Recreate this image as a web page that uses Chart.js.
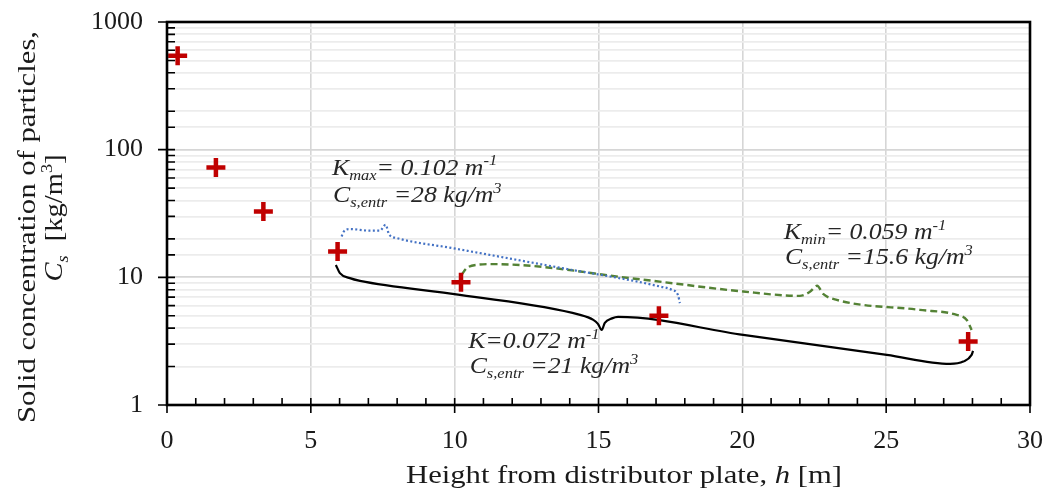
<!DOCTYPE html>
<html><head><meta charset="utf-8">
<script src="https://cdn.jsdelivr.net/npm/chart.js@4.4.0/dist/chart.umd.min.js"></script>
<style>html,body{margin:0;padding:0;background:#fff;} #wrap{width:1049px;height:495px;position:relative;}</style>
</head><body><div id="wrap"><canvas id="c"></canvas></div>
<script>
// ---- data ----
const heights = [0.37, 1.70, 3.35, 5.93, 10.22, 17.10, 27.85];
const concentrations = [545, 72.6, 32.8, 15.9, 9.17, 5.01, 3.14];

// brace curves (data units: h [m], Cs [kg/m3])
const braceK_h  = [5.87, 6.01, 6.36, 6.71, 10.18, 14.36, 14.82, 14.98, 15.11, 15.22, 15.47, 15.68, 20.03, 25.02, 27.22, 27.68, 27.97, 28.02];
const braceK_cs = [12.5, 10.8, 9.86, 9.39, 7.29, 5.08, 4.64, 4.32, 3.87, 4.40, 4.77, 4.90, 3.54, 2.47, 2.10, 2.19, 2.47, 2.65];
const braceKmax_h  = [6.07, 6.15, 6.36, 7.06, 7.40, 7.60, 7.72, 7.99, 9.95, 13.43, 17.14, 17.55, 17.76, 17.83];
const braceKmax_cs = [20.9, 22.9, 23.9, 23.2, 23.2, 25.8, 21.7, 20.3, 16.9, 12.15, 8.47, 7.98, 7.29, 6.28];
const braceKmin_h  = [10.24, 10.42, 10.77, 11.34, 16.44, 20.03, 22.00, 22.35, 22.60, 22.81, 23.28, 26.17, 27.45, 27.80, 27.97];
const braceKmin_cs = [10.46, 11.81, 12.53, 12.69, 9.65, 7.74, 7.16, 7.70, 8.58, 7.42, 6.66, 5.56, 5.08, 4.64, 3.87];

const xTickValues = [0, 5, 10, 15, 20, 25, 30];
const yTickLabels = ['1', '10', '100', '1000'];

const xTitle = [{t:'Height from distributor plate, '},{t:'h',it:1},{t:' [m]'}];
const yTitle1 = [{t:'Solid concentration of particles,'}];
const yTitle2 = [{t:'C',it:1},{t:'s',it:1,pos:'sub'},{t:'  [kg/m'},{t:'3',pos:'sup'},{t:']'}];

const notes = [
  {h: 5.735, cs: 63.7, runs:[{t:'K',it:1},{t:'max',it:1,pos:'sub'},{t:'= 0.102 m',it:1},{t:'-1',it:1,pos:'sup'}]},
  {h: 5.77,  cs: 38.9, runs:[{t:'C',it:1},{t:'s,entr',it:1,pos:'sub'},{t:' =28 kg/m',it:1},{t:'3',it:1,pos:'sup'}]},
  {h: 21.44, cs: 20.0, runs:[{t:'K',it:1},{t:'min',it:1,pos:'sub'},{t:'= 0.059 m',it:1},{t:'-1',it:1,pos:'sup'}]},
  {h: 21.48, cs: 12.7, runs:[{t:'C',it:1},{t:'s,entr',it:1,pos:'sub'},{t:' =15.6 kg/m',it:1},{t:'3',it:1,pos:'sup'}]},
  {h: 10.47, cs: 2.79, runs:[{t:'K=0.072 m',it:1},{t:'-1',it:1,pos:'sup'}]},
  {h: 10.52, cs: 1.78, runs:[{t:'C',it:1},{t:'s,entr',it:1,pos:'sub'},{t:' =21 kg/m',it:1},{t:'3',it:1,pos:'sup'}]}
];

// ---- helpers ----
const SERIF = '"Liberation Serif", "Times New Roman", serif';
function runFont(r, base){ const s = r.pos ? base*0.64 : base; return (r.it ? 'italic ' : '') + s + 'px ' + SERIF; }
function measureRuns(ctx, runs, base){ let w = 0; for (const r of runs){ ctx.font = runFont(r, base); w += ctx.measureText(r.t).width; } return w; }
function drawRuns(ctx, x, y, runs, base){
  ctx.textAlign = 'left'; ctx.textBaseline = 'alphabetic';
  for (const r of runs){
    ctx.font = runFont(r, base);
    const dy = r.pos === 'sub' ? base*0.22 : (r.pos === 'sup' ? -base*0.40 : 0);
    ctx.fillText(r.t, x, y + dy);
    x += ctx.measureText(r.t).width;
  }
}
// text line centred at (cx, by), rotated by ang, stretched to a given length
function drawTitle(ctx, runs, base, cx, by, ang, length){
  const w = measureRuns(ctx, runs, base);
  const sx = length / w;
  ctx.save();
  ctx.translate(cx, by); ctx.rotate(ang); ctx.scale(sx, 1);
  drawRuns(ctx, -w/2, 0, runs, base);
  ctx.restore();
}
const zip = (a, b) => a.map((v, i) => ({x: v, y: b[i]}));
const isPow10 = v => Math.abs(Math.log10(v) - Math.round(Math.log10(v))) < 1e-9;

const NOTE_SIZE = 23, NOTE_STRETCH = 1.12;

const decorPlugin = {
  id: 'decor',
  afterDatasetsDraw(chart){
    const ctx = chart.ctx, xs = chart.scales.x, ys = chart.scales.y;
    ctx.save();
    ctx.fillStyle = '#262626';
    for (const n of notes){
      ctx.save();
      ctx.translate(xs.getPixelForValue(n.h), ys.getPixelForValue(n.cs));
      ctx.scale(NOTE_STRETCH, 1);
      drawRuns(ctx, 0, 0, n.runs, NOTE_SIZE);
      ctx.restore();
    }
    ctx.restore();
  },
  afterDraw(chart){
    const ctx = chart.ctx, xs = chart.scales.x, ys = chart.scales.y, a = chart.chartArea;
    ctx.save();
    ctx.strokeStyle = '#000';
    // tick marks
    ctx.lineWidth = 1.6;
    ctx.beginPath();
    for (const t of xs.ticks){
      const px = xs.getPixelForValue(t.value);
      if (t.value % 5 === 0){ ctx.moveTo(px, a.bottom - 7); ctx.lineTo(px, a.bottom + 8); }
      else { ctx.moveTo(px, a.bottom - 7); ctx.lineTo(px, a.bottom); }
    }
    for (const t of ys.ticks){
      const py = ys.getPixelForValue(t.value);
      if (isPow10(t.value)){ ctx.moveTo(a.left - 9, py); ctx.lineTo(a.left + 8, py); }
      else { ctx.moveTo(a.left, py); ctx.lineTo(a.left + 8, py); }
    }
    ctx.stroke();
    // frame
    ctx.lineWidth = 2.6;
    ctx.strokeRect(a.left, a.top, a.right - a.left, a.bottom - a.top);
    // axis titles
    ctx.fillStyle = '#1a1a1a';
    drawTitle(ctx, xTitle, 26, 624, 483, 0, 436);
    drawTitle(ctx, yTitle1, 26, 35, 227, -Math.PI/2, 392);
    drawTitle(ctx, yTitle2, 26, 62, 218, -Math.PI/2, 127);
    ctx.restore();
  }
};

new Chart(document.getElementById('c'), {
  type: 'scatter',
  data: {
    datasets: [
      { label: 'Measured', data: zip(heights, concentrations), pointStyle: 'cross', pointRadius: 9.5, pointHoverRadius: 9.5,
        pointBorderWidth: 4.5, borderColor: '#C00000', backgroundColor: '#C00000', showLine: false },
      { label: 'K', data: zip(braceK_h, braceK_cs), showLine: true, pointRadius: 0, borderColor: '#000000', borderWidth: 2.2,
        cubicInterpolationMode: 'monotone' },
      { label: 'Kmax', data: zip(braceKmax_h, braceKmax_cs), showLine: true, pointRadius: 0, borderColor: '#4472C4', borderWidth: 2.2,
        borderDash: [2, 2.4], cubicInterpolationMode: 'monotone' },
      { label: 'Kmin', data: zip(braceKmin_h, braceKmin_cs), showLine: true, pointRadius: 0, borderColor: '#548235', borderWidth: 2.4,
        borderDash: [7, 4], cubicInterpolationMode: 'monotone' }
    ]
  },
  options: {
    responsive: true, maintainAspectRatio: false, animation: false, devicePixelRatio: 1,
    layout: { padding: { left: 0, top: 22, right: 19, bottom: 0 } },
    plugins: { legend: { display: false }, tooltip: { enabled: false } },
    scales: {
      x: {
        type: 'linear', min: 0, max: 30,
        afterFit(s){ s.height = 90; s.paddingLeft = 0; s.paddingRight = 0; },
        afterBuildTicks(s){ const t = []; for (let v = 0; v <= 30; v++) t.push({value: v}); s.ticks = t; },
        border: { display: false },
        grid: { drawTicks: false, lineWidth: 1.6,
          color: c => (c.tick && c.tick.value % 5 === 0 && c.tick.value > 0 && c.tick.value < 30) ? '#d6d6d6' : 'rgba(0,0,0,0)' },
        ticks: { autoSkip: false, maxRotation: 0, padding: 21, color: '#1a1a1a',
          font: { family: SERIF, size: 26 },
          callback: v => (xTickValues.includes(v) ? String(v) : '') }
      },
      y: {
        type: 'logarithmic', min: 1, max: 1000,
        afterFit(s){ s.width = 167; s.paddingTop = 0; s.paddingBottom = 0; },
        border: { display: false },
        grid: { drawTicks: false, lineWidth: 1.8,
          color: c => (c.tick && isPow10(c.tick.value)) ? '#d6d6d6' : '#ececec' },
        ticks: { autoSkip: false, padding: 24, color: '#1a1a1a',
          font: { family: SERIF, size: 26 },
          callback: v => (isPow10(v) ? yTickLabels[Math.round(Math.log10(v))] : '') }
      }
    }
  },
  plugins: [decorPlugin]
});
</script>
</body></html>
